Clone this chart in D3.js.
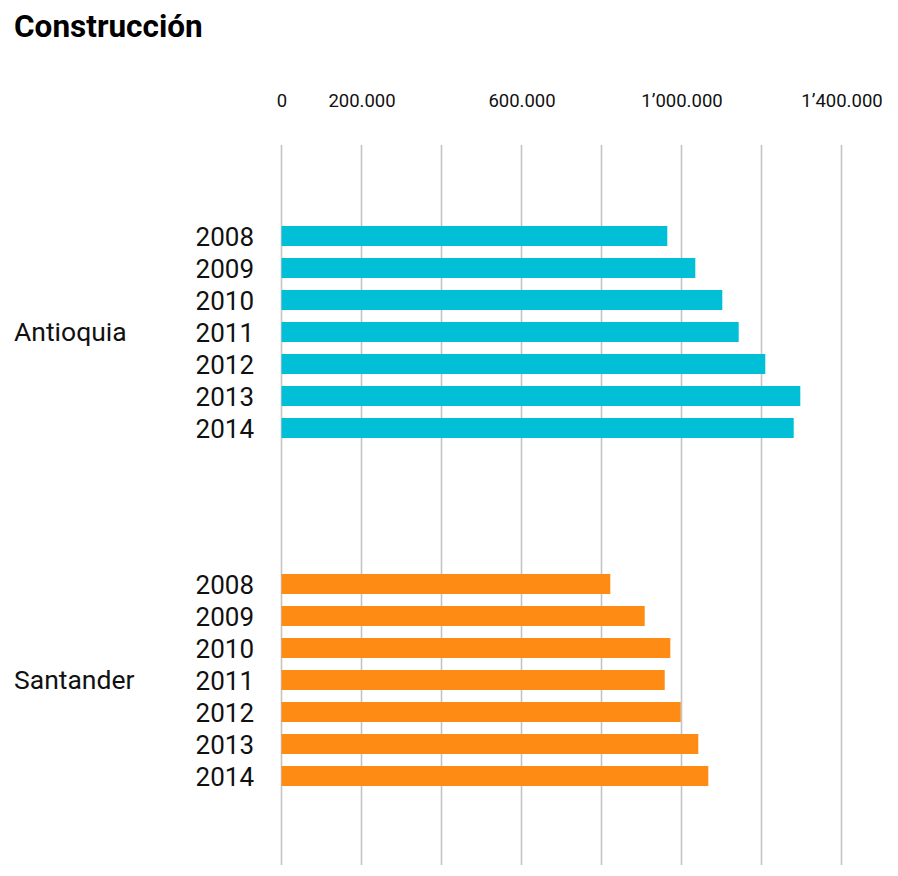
<!DOCTYPE html>
<html>
<head>
<meta charset="utf-8">
<script src="https://cdn.jsdelivr.net/npm/d3@7"></script>
<style>
  html, body { margin: 0; padding: 0; background: #fff; }
  svg { display: block; font-family: Roboto, "Noto Sans", sans-serif; }
</style>
</head>
<body>
<script>
// Chart data
const title = 'Construcción';
const regions = ['Antioquia', 'Santander'];
const years = ['2008', '2009', '2010', '2011', '2012', '2013', '2014'];
const antioquia = [964500, 1034500, 1102000, 1143000, 1209500, 1297000, 1280500];
const santander = [822000, 908000, 972000, 958000, 998000, 1042000, 1067000];
const gridValues = [0, 200000, 400000, 600000, 800000, 1000000, 1200000, 1400000];
const tickLabels = [0, 200000, 600000, 1000000, 1400000];
const colors = ['#00bfd6', '#fd8b14'];

document.addEventListener('DOMContentLoaded', function() {
    const width = 898, height = 876;
    const series = [antioquia, santander];

    const svg = d3.select('body')
        .append('svg')
        .attr('width', width)
        .attr('height', height);

    // Title
    svg.append('text')
        .attr('x', 14)
        .attr('y', 36.5)
        .attr('font-size', 31.5)
        .attr('font-weight', 'bold')
        .attr('fill', '#000')
        .text(title);

    // Scales
    const x = d3.scaleLinear()
        .domain([0, 1400000])
        .range([281.5, 841.5]);

    const yGroup = d3.scaleBand()
        .domain(regions)
        .range([158, 854]);

    const yYear = d3.scaleBand()
        .domain(years)
        .range([0, yGroup.bandwidth()])
        .paddingInner(0.375)
        .paddingOuter(2.125);

    // number format: 1’000.000
    function fmt(v) {
        if (v === 0) return '0';
        const s = d3.format(',')(v).split(',');
        if (s.length === 3) return s[0] + '\u2019' + s[1] + '.' + s[2];
        return s.join('.');
    }

    // Grid lines
    svg.append('g')
        .selectAll('line')
        .data(gridValues)
        .join('line')
        .attr('x1', d => x(d))
        .attr('x2', d => x(d))
        .attr('y1', 145)
        .attr('y2', 865)
        .attr('stroke', '#c4c4c4')
        .attr('stroke-width', 1.6);

    // Top axis labels
    const axis = d3.axisTop(x)
        .tickValues(tickLabels)
        .tickFormat(fmt)
        .tickSize(0)
        .tickPadding(0);
    const axisG = svg.append('g')
        .attr('transform', 'translate(0,106.5)')
        .call(axis);
    axisG.select('.domain').remove();
    axisG.selectAll('text')
        .attr('font-size', 18.5)
        .attr('font-family', 'Roboto, sans-serif')
        .attr('fill', '#111')
        .attr('dy', 0);

    // Groups
    const groups = svg.selectAll('.grp')
        .data(regions)
        .join('g')
        .attr('class', 'grp')
        .attr('transform', d => `translate(0,${yGroup(d)})`);

    groups.append('text')
        .attr('x', 14)
        .attr('y', yGroup.bandwidth() / 2 + 9)
        .attr('font-size', 26.5)
        .attr('fill', '#111')
        .text(d => d);

    groups.each(function(region, gi) {
        const g = d3.select(this);
        const vals = years.map((yr, i) => ({ year: yr, value: series[gi][i] }));

        g.selectAll('rect')
            .data(vals)
            .join('rect')
            .attr('x', x(0))
            .attr('y', d => yYear(d.year))
            .attr('width', d => x(d.value) - x(0))
            .attr('height', yYear.bandwidth())
            .attr('fill', colors[gi]);

        g.selectAll('.yr')
            .data(vals)
            .join('text')
            .attr('class', 'yr')
            .attr('x', 254)
            .attr('y', d => yYear(d.year) + yYear.bandwidth() / 2 + 9.5)
            .attr('text-anchor', 'end')
            .attr('font-size', 26)
            .attr('fill', '#111')
            .text(d => d.year);
    });
});
</script>
</body>
</html>
